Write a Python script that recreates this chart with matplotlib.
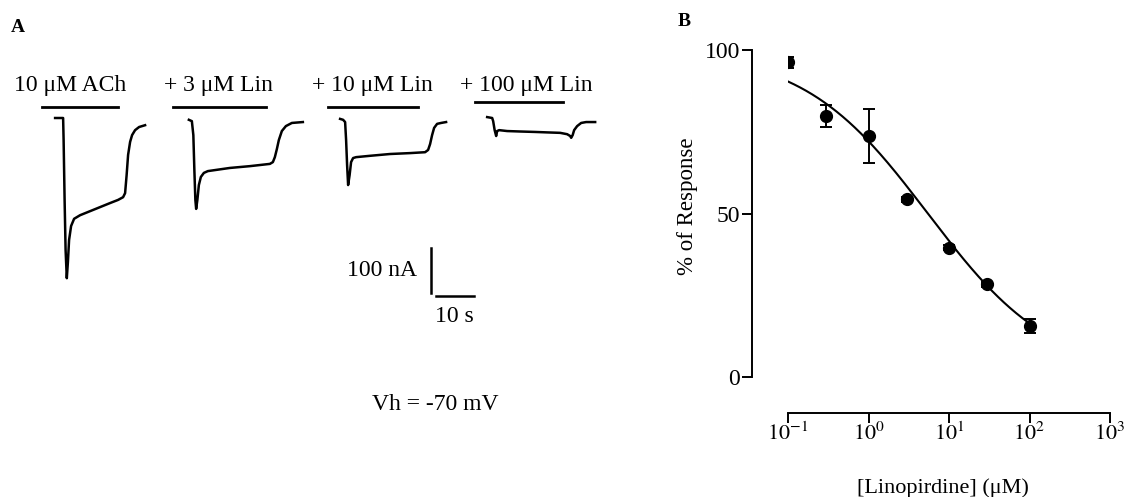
import numpy as np
import matplotlib
matplotlib.use("Agg")
import matplotlib.pyplot as plt

plt.rcParams['font.family'] = ['Liberation Serif', 'DejaVu Serif']
plt.rcParams['mathtext.fontset'] = 'stix'

# ---- panel A: current traces (time in s from trace start, current in nA) ----
trace_labels = ["10 \u03bcM ACh", "+ 3 \u03bcM Lin", "+ 10 \u03bcM Lin", "+ 100 \u03bcM Lin"]

t1 = [0, 2.11, 2.24, 2.5, 2.76, 3.08, 3.37, 3.68, 4.21, 5.0, 6.58, 9.21, 11.84, 14.47,
      16.58, 17.89, 18.42, 18.82, 19.21, 19.74, 20.26, 21.05, 22.11, 23.68]
i1 = [0, 0, -49, -182, -293, -356, -320, -271, -240, -224, -216, -207, -198, -189,
      -182, -176, -167, -127, -82, -53, -38, -27, -20, -16]

t2 = [0, 0.79, 1.18, 1.45, 1.71, 1.92, 2.24, 2.63, 3.16, 3.95, 5.0, 10.79, 16.05,
      21.32, 22.11, 22.63, 23.16, 23.68, 24.47, 25.53, 27.11, 30.0]
i2 = [-4, -7, -38, -116, -182, -202, -182, -149, -131, -122, -118, -111, -107,
      -102, -98, -87, -69, -49, -29, -18, -11, -9]

t3 = [0, 0.79, 1.32, 1.58, 1.84, 2.11, 2.5, 2.89, 3.42, 4.21, 7.89, 13.16, 18.42,
      22.37, 23.16, 23.68, 24.21, 24.74, 25.53, 26.58, 27.89]
i3 = [-2, -4, -9, -49, -104, -149, -127, -98, -89, -87, -84, -80, -78,
      -76, -71, -58, -38, -22, -13, -11, -9]

t4 = [0, 1.32, 1.58, 1.97, 2.37, 2.63, 3.16, 5.26, 8.68, 12.63, 15.79, 19.21, 21.05,
      21.84, 22.11, 22.5, 22.89, 23.68, 24.74, 26.05, 28.42]
i4 = [2, 0, -7, -27, -40, -29, -27, -29, -30, -31, -32, -33, -36,
      -40, -44, -38, -27, -18, -11, -9, -9]

traces_t = [t1, t2, t3, t4]
traces_i = [i1, i2, i3, i4]

# application bars (start, end) in s, relative to each trace start
bar_on = [-3.4, -4.2, -3.2, -3.2]
bar_off = [16.6, 20.3, 20.5, 20.0]

scale_nA = 100
scale_s = 10

# ---- panel B: concentration-response ----
conc = [0.1, 0.3, 1, 3, 10, 30, 100]
response = [96.2, 79.8, 73.7, 54.3, 39.6, 28.4, 15.6]
sem = [1.6, 3.3, 8.2, 0.8, 0.8, 0.8, 2.2]
ic50 = 5.45
hill = 0.56

# layout (seconds on panel A axis where each trace begins)
trace_start = [14.5, 49.7, 89.5, 128.2]
bar_level = [25, 25, 25, 36]

W, H = 1126, 497
fig = plt.figure(figsize=(W / 100, H / 100), dpi=100)


def fx(x):
    return x / W


def fy(y):
    return 1 - y / H


# panel A axis: 160 s across 608 px, 800 nA across 360 px
axA = fig.add_axes([0, fy(415), fx(608), 360 / H])
axA.set_xlim(0, 160)
axA.set_ylim(-660, 140)
axA.axis('off')

for k in range(4):
    t = np.array(traces_t[k]) + trace_start[k]
    axA.plot(t, traces_i[k], color='black', lw=1.8, solid_joinstyle='round')
    axA.plot([trace_start[k] + bar_on[k], trace_start[k] + bar_off[k]],
             [bar_level[k], bar_level[k]], color='black', lw=2.0)

label_x = [70, 218, 372, 526]
for k in range(4):
    fig.text(fx(label_x[k]), fy(85), trace_labels[k], ha='center', va='center', fontsize=17)

# scale bars
axA.plot([113.4, 113.4], [-389, -389 + scale_nA], color='black', lw=1.8)
axA.plot([114.7, 114.7 + scale_s], [-396, -396], color='black', lw=1.8)
fig.text(fx(417), fy(271), "%d nA" % scale_nA, ha='right', va='center', fontsize=17)
fig.text(fx(435), fy(317), "%d s" % scale_s, ha='left', va='center', fontsize=17)
fig.text(fx(435), fy(404), "Vh = -70 mV", ha='center', va='center', fontsize=17)

fig.text(fx(11), fy(27), "A", ha='left', va='center', fontsize=14, fontweight='bold')
fig.text(fx(678), fy(22), "B", ha='left', va='center', fontsize=14, fontweight='bold')

# panel B axis
axB = fig.add_axes([fx(788), fy(377), (1110 - 788) / W, (377 - 50) / H])
axB.set_xscale('log')
axB.set_xlim(0.1, 1000)
axB.set_ylim(0, 100)

xs = np.logspace(-1, 2, 200)
axB.plot(xs, 100 / (1 + (xs / ic50) ** hill), color='black', lw=1.5)
axB.errorbar(conc, response, yerr=sem, fmt='o', color='black', ms=8.5,
             capsize=4.5, elinewidth=1.4, capthick=1.4, zorder=3)

for s in ['top', 'right']:
    axB.spines[s].set_visible(False)
for s in ['left', 'bottom']:
    axB.spines[s].set_position(('outward', 26))
    axB.spines[s].set_linewidth(1.4)

axB.set_yticks([0, 50, 100])
axB.set_xticks([0.1, 1, 10, 100, 1000])
axB.set_xticklabels([r'$10^{-1}$', r'$10^{0}$', r'$10^{1}$', r'$10^{2}$', r'$10^{3}$'])
axB.xaxis.set_minor_locator(matplotlib.ticker.NullLocator())
axB.tick_params(axis='both', which='major', direction='out', length=7, width=1.4,
                labelsize=17, pad=1.5)
axB.tick_params(axis='x', labelsize=16, pad=0)
axB.set_ylabel("% of Response", fontsize=16.5, va='center')
axB.yaxis.set_label_coords(-0.311, 0.523)
axB.set_xlabel("[Linopirdine] (\u03bcM)", fontsize=16, va='center')
axB.xaxis.set_label_coords(0.481, -0.339)

fig.savefig("out.png", dpi=100)
